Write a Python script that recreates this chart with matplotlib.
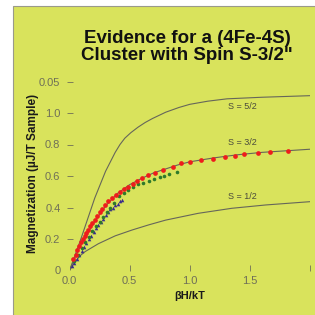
import numpy as np
import matplotlib
matplotlib.use('Agg')
import matplotlib.pyplot as plt
from matplotlib.patches import Rectangle

# theory curves
s52_x = [0, 0.09, 0.21, 0.30, 0.38, 0.42, 0.46, 0.51, 0.57, 0.63, 0.69, 0.80, 0.91, 1.00, 1.15, 1.31, 1.6, 2.0]
s52_y = [0, 0.19, 0.46, 0.63, 0.75, 0.80, 0.84, 0.875, 0.91, 0.94, 0.965, 1.005, 1.035, 1.055, 1.075, 1.09, 1.10, 1.11]

s32_x = [0, 0.05, 0.1, 0.2, 0.3, 0.4, 0.5, 0.6, 0.7, 0.8, 0.9, 1.0, 1.2, 1.4, 1.6, 1.8, 2.0]
s32_y = [0, 0.09, 0.17, 0.30, 0.41, 0.49, 0.545, 0.585, 0.62, 0.645, 0.67, 0.69, 0.715, 0.735, 0.75, 0.76, 0.77]

s12_x = [0, 0.04, 0.09, 0.13, 0.24, 0.38, 0.52, 0.66, 0.80, 1.07, 1.35, 1.63, 2.0]
s12_y = [0, 0.05, 0.095, 0.12, 0.17, 0.22, 0.257, 0.29, 0.32, 0.363, 0.395, 0.416, 0.437]

# measured data
red_x = [0.03, 0.05, 0.065, 0.08, 0.095, 0.11, 0.125, 0.14, 0.155, 0.17, 0.19, 0.21, 0.23, 0.25, 0.27,
         0.296, 0.32, 0.35, 0.385, 0.42, 0.45, 0.49, 0.53, 0.56, 0.60, 0.65, 0.71, 0.78, 0.86, 0.93,
         1.00, 1.09, 1.19, 1.29, 1.375, 1.45, 1.57, 1.67, 1.82]
red_y = [0.07, 0.10, 0.13, 0.155, 0.18, 0.20, 0.22, 0.24, 0.26, 0.28, 0.30, 0.32, 0.345, 0.37, 0.39,
         0.415, 0.44, 0.46, 0.48, 0.50, 0.515, 0.53, 0.55, 0.57, 0.59, 0.605, 0.62, 0.64, 0.66, 0.68,
         0.69, 0.70, 0.71, 0.72, 0.73, 0.74, 0.745, 0.75, 0.76]

green_x = [0.04, 0.07, 0.10, 0.13, 0.16, 0.19, 0.22, 0.25, 0.28, 0.31, 0.34, 0.37,
           0.41, 0.45, 0.49, 0.53, 0.57, 0.615, 0.66, 0.70, 0.75, 0.79, 0.83, 0.89]
green_y = [0.06, 0.10, 0.14, 0.18, 0.21, 0.25, 0.28, 0.31, 0.34, 0.37, 0.40, 0.43,
           0.47, 0.49, 0.51, 0.53, 0.55, 0.555, 0.57, 0.58, 0.595, 0.60, 0.615, 0.625]

blue_x = [0.02, 0.04, 0.06, 0.08, 0.10, 0.12, 0.14, 0.16, 0.18, 0.20, 0.22,
          0.24, 0.26, 0.28, 0.30, 0.32, 0.34, 0.36, 0.38, 0.40, 0.42, 0.435]
blue_y = [0.03, 0.05, 0.075, 0.10, 0.125, 0.15, 0.175, 0.20, 0.22, 0.245, 0.27,
          0.29, 0.31, 0.33, 0.35, 0.37, 0.39, 0.40, 0.415, 0.425, 0.44, 0.45]

xticks = [0, 0.5, 1.0, 1.5, 2.0]
xticklabels = ['0.0', '0.5', '1.0', '1.5', '']
yticks = [0, 0.2, 0.4, 0.6, 0.8, 1.0, 1.2]
yticklabels = ['0', '0.2', '0.4', '0.6', '0.8', '1.0', '0.05']

plt.rcParams['font.family'] = ['Liberation Sans', 'DejaVu Sans']

bg = '#d9e35c'
gray = '#6f6f58'

fig = plt.figure(figsize=(3.15, 3.15), dpi=100)
fig.patch.set_facecolor('white')
fig.patches.append(Rectangle((13 / 315, -0.01), 1.0, 1 - 6 / 315 + 0.01, transform=fig.transFigure,
                             facecolor=bg, edgecolor='#9a9a8a', linewidth=0.8, zorder=-5))

ax = fig.add_axes([69.5 / 315, (315 - 270.5) / 315, (310 - 69.5) / 315, 189 / 315])
ax.set_zorder(2)
ax.patch.set_alpha(0)
for s in ax.spines.values():
    s.set_visible(False)

curve_color = '#66665a'
ax.plot(s52_x, s52_y, color=curve_color, lw=0.8)
ax.plot(s32_x, s32_y, color=curve_color, lw=0.8)
ax.plot(s12_x, s12_y, color=curve_color, lw=0.8)

ax.plot(blue_x, blue_y, '^', color='#3a2b8c', ms=2.6, mew=0, zorder=3)
ax.plot(green_x, green_y, 'o', color='#2f7a2a', ms=2.6, mew=0, zorder=4)
ax.plot(red_x, red_y, 'o', color='#ee1c1c', ms=3.4, mew=0, zorder=5)

for yy, lab in [(1.04, 'S = 5/2'), (0.815, 'S = 3/2'), (0.467, 'S = 1/2')]:
    ax.text(1.44, yy, lab, fontsize=6.5, color='#4a4a3c', ha='center', va='center')

ax.set_xlim(0, 2.0)
ax.set_ylim(0, 1.2)
ax.set_xticks(xticks)
ax.set_xticklabels(xticklabels)
ax.set_yticks(yticks)
ax.set_yticklabels(yticklabels)
ax.tick_params(axis='x', direction='in', length=4, width=0.6, color=gray, labelcolor=gray,
               labelsize=8, pad=4)
ax.tick_params(axis='y', direction='inout', length=5, width=0.6, color=gray, labelcolor=gray,
               labelsize=8, pad=4)
ax.xaxis.get_major_ticks()[0].tick1line.set_visible(False)
ax.yaxis.get_major_ticks()[0].tick1line.set_visible(False)

fig.text(187 / 315, 1 - 47 / 315, 'Evidence for a (4Fe-4S)\nCluster with Spin S-3/2"',
         ha='center', va='center', fontsize=13.5, fontweight='bold', color='#111111',
         linespacing=1.05)
fig.text(33 / 315, 1 - 173 / 315, 'Magnetization (µJ/T Sample)', rotation=90,
         ha='center', va='center', fontsize=8.5, fontweight='bold', color='#1a1a1a')
fig.text(190 / 315, 1 - 296 / 315, 'βH/kT', ha='center', va='center', fontsize=8,
         fontweight='bold', color='#1a1a1a')

fig.savefig('out.png', dpi=100, facecolor=fig.get_facecolor())
